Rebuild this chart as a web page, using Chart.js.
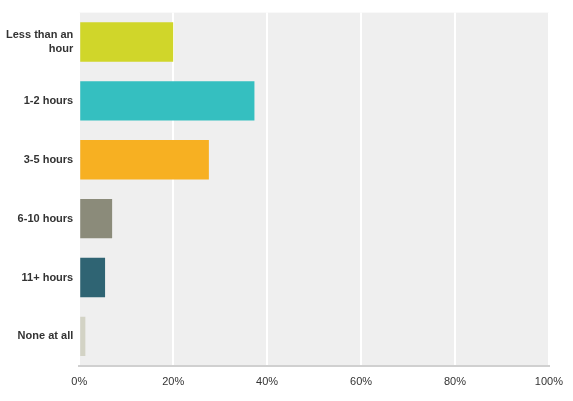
<!DOCTYPE html>
<html lang="en">
<head>
  <meta charset="UTF-8">
  <title>Hours</title>
  <script src="https://cdn.jsdelivr.net/npm/chart.js"></script>
  <style>
    body { margin: 0; background: #fff; font-family: "Liberation Sans", Arial, sans-serif; }
    #wrap { width: 573px; height: 401px; }
  </style>
</head>
<body>
  <div id="wrap"><canvas id="chart"></canvas></div>
  <script>
    const categories = [['Less than an', 'hour'], '1-2 hours', '3-5 hours', '6-10 hours', '11+ hours', 'None at all'];
    const values = [20.0, 37.3, 27.6, 7.0, 5.5, 1.3];
    const barColors = ['#d0d62a', '#35bfc0', '#f7b022', '#8b8b7a', '#2f6473', '#d3d3c5'];

    // grey plot background
    const plotBg = {
      id: 'plotBg',
      beforeDraw(chart) {
        const { ctx, chartArea: a } = chart;
        ctx.save();
        ctx.fillStyle = '#efefef';
        ctx.fillRect(a.left, a.top, a.right - a.left, a.bottom - a.top);
        ctx.restore();
      }
    };

    new Chart(document.getElementById('chart'), {
      type: 'bar',
      data: {
        labels: categories,
        datasets: [{ data: values, backgroundColor: barColors, barPercentage: 0.67, categoryPercentage: 1 }]
      },
      options: {
        indexAxis: 'y',
        responsive: true,
        maintainAspectRatio: false,
        animation: false,
        layout: { padding: { top: 6, right: 0, bottom: 2, left: 0 } },
        plugins: { legend: { display: false }, tooltip: { enabled: false } },
        scales: {
          x: {
            min: 0, max: 100,
            ticks: { stepSize: 20, callback: v => v + '%', color: '#333', font: { size: 11, family: 'Liberation Sans' }, padding: 10 },
            grid: { color: '#ffffff', lineWidth: 2, drawTicks: false },
            border: { color: '#d0d0d0', width: 2 }
          },
          y: {
            ticks: { color: '#333', font: { size: 11, weight: 'bold', family: 'Liberation Sans' }, padding: 6 },
            grid: { display: false, drawTicks: false },
            border: { display: false }
          }
        }
      },
      plugins: [plotBg]
    });
  </script>
</body>
</html>
